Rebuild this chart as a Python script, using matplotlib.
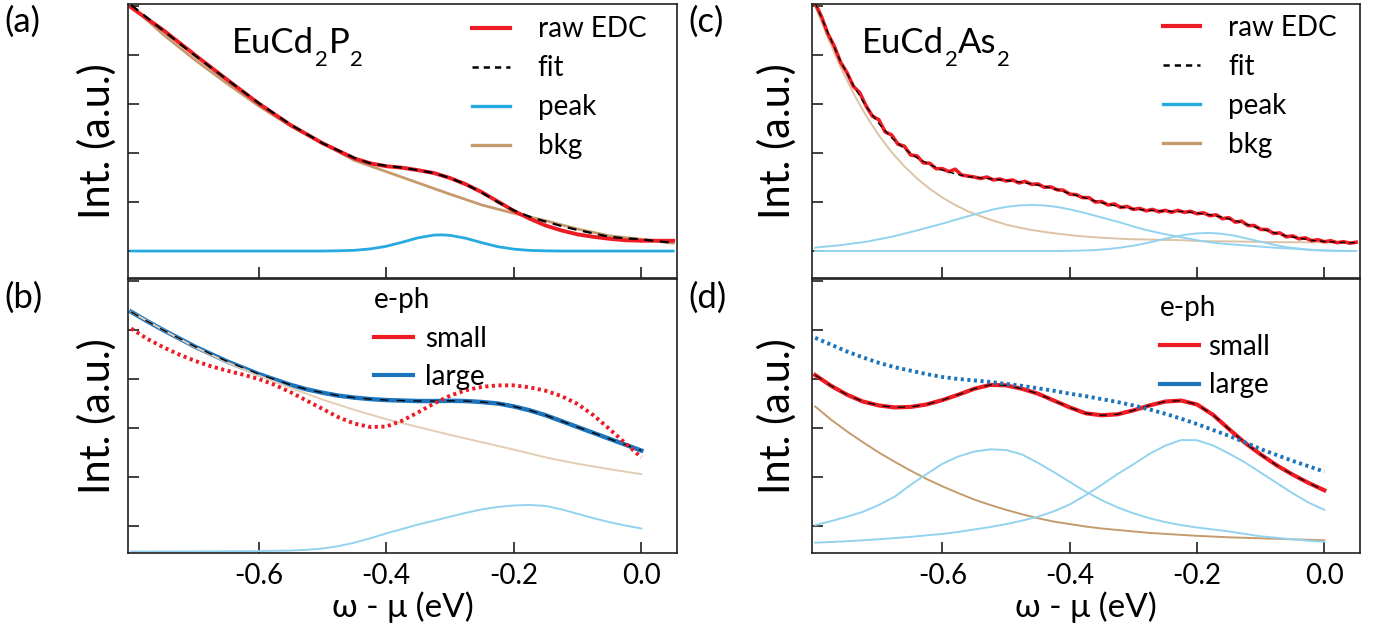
import matplotlib.pyplot as plt
from matplotlib.lines import Line2D

plt.rcParams['font.family'] = ['Lato', 'DejaVu Sans']

# ---- panel (a): EuCd2P2 EDC fit ----
a_x = [-0.80, -0.75, -0.70, -0.65, -0.60, -0.55, -0.50, -0.45, -0.425, -0.40,
       -0.375, -0.35, -0.325, -0.30, -0.275, -0.25, -0.225, -0.20, -0.175, -0.15,
       -0.125, -0.10, -0.075, -0.05, -0.025, 0.0, 0.025, 0.05]
a_raw = [4.97, 4.51, 4.00, 3.50, 3.01, 2.57, 2.20, 1.89, 1.79, 1.73,
         1.70, 1.65, 1.59, 1.49, 1.36, 1.20, 1.01, 0.82, 0.66, 0.52,
         0.42, 0.34, 0.29, 0.25, 0.22, 0.21, 0.21, 0.21]
a_fit = [5.02, 4.50, 3.99, 3.50, 3.02, 2.58, 2.20, 1.90, 1.79, 1.74,
         1.70, 1.65, 1.59, 1.49, 1.36, 1.19, 1.00, 0.83, 0.70, 0.60,
         0.51, 0.43, 0.36, 0.29, 0.26, 0.24, 0.20, 0.17]
a_bkg_x = [-0.80, -0.75, -0.70, -0.65, -0.60, -0.55, -0.50, -0.45, -0.40,
           -0.35, -0.30, -0.25, -0.20, -0.15, -0.10, -0.05, 0.0, 0.05]
a_bkg = [5.00, 4.42, 3.90, 3.42, 2.96, 2.55, 2.20, 1.85, 1.62,
         1.39, 1.16, 0.94, 0.77, 0.62, 0.45, 0.31, 0.24, 0.16]
a_peak_x = [-0.80, -0.50, -0.475, -0.45, -0.425, -0.40, -0.375, -0.35, -0.325,
            -0.3125, -0.30, -0.275, -0.25, -0.225, -0.20, -0.175, -0.15, -0.125, 0.05]
a_peak = [0.0, 0.0, 0.005, 0.015, 0.043, 0.097, 0.18, 0.27, 0.326,
          0.33, 0.32, 0.26, 0.17, 0.089, 0.039, 0.013, 0.004, 0.0, 0.0]

# ---- panel (b): EuCd2P2 simulation ----
b_x = [-0.80, -0.775, -0.75, -0.725, -0.70, -0.675, -0.65, -0.625, -0.60, -0.575,
       -0.55, -0.525, -0.50, -0.475, -0.45, -0.425, -0.40, -0.375, -0.35, -0.325,
       -0.30, -0.275, -0.25, -0.225, -0.20, -0.175, -0.15, -0.125, -0.10, -0.075,
       -0.05, -0.025, 0.0]
b_large = [4.37, 4.18, 4.00, 3.83, 3.66, 3.51, 3.36, 3.23, 3.10, 2.99,
           2.88, 2.79, 2.72, 2.66, 2.62, 2.59, 2.57, 2.56, 2.55, 2.55,
           2.555, 2.55, 2.53, 2.50, 2.44, 2.36, 2.26, 2.14, 2.02, 1.90,
           1.78, 1.66, 1.54]
b_small = [4.03, 3.82, 3.65, 3.50, 3.37, 3.26, 3.17, 3.09, 3.00, 2.88,
           2.73, 2.56, 2.39, 2.22, 2.09, 2.02, 2.03, 2.15, 2.32, 2.50,
           2.66, 2.77, 2.84, 2.87, 2.87, 2.83, 2.76, 2.65, 2.49, 2.26,
           1.98, 1.69, 1.40]
b_bkg_x = [-0.80, -0.75, -0.70, -0.65, -0.60, -0.55, -0.50, -0.45, -0.40,
           -0.35, -0.30, -0.25, -0.20, -0.15, -0.10, -0.05, 0.0]
b_bkg = [4.37, 4.00, 3.65, 3.34, 3.07, 2.82, 2.58, 2.37, 2.18,
         2.02, 1.86, 1.71, 1.56, 1.40, 1.27, 1.16, 1.06]
b_peak = [-0.52, -0.52, -0.519, -0.518, -0.517, -0.516, -0.515, -0.513, -0.51,
          -0.505, -0.50, -0.485, -0.46, -0.41, -0.34, -0.25, -0.15, -0.06,
          0.03, 0.11, 0.19, 0.27, 0.34, 0.39, 0.42, 0.43, 0.41, 0.34,
          0.25, 0.16, 0.08, 0.01, -0.05]

# ---- panel (c): EuCd2As2 EDC fit ----
c_raw_x = [round(-0.80 + 0.01 * i, 2) for i in range(86)]
c_raw = [5.05, 4.78, 4.43, 4.18, 3.85, 3.64, 3.36, 3.23, 2.96, 2.75,
         2.68, 2.43, 2.37, 2.18, 2.14, 1.96, 1.94, 1.80, 1.79, 1.68,
         1.68, 1.62, 1.67, 1.55, 1.53, 1.51, 1.48, 1.51, 1.45, 1.47,
         1.43, 1.45, 1.39, 1.42, 1.36, 1.37, 1.30, 1.31, 1.25, 1.24,
         1.16, 1.15, 1.09, 1.09, 1.00, 1.01, 0.94, 0.96, 0.89, 0.91,
         0.85, 0.87, 0.82, 0.85, 0.80, 0.83, 0.79, 0.83, 0.79, 0.81,
         0.76, 0.78, 0.72, 0.74, 0.66, 0.68, 0.59, 0.61, 0.52, 0.52,
         0.44, 0.44, 0.36, 0.37, 0.29, 0.31, 0.25, 0.27, 0.21, 0.23,
         0.19, 0.21, 0.17, 0.19, 0.16, 0.18]
c_x = [-0.80, -0.78, -0.76, -0.74, -0.72, -0.70, -0.68, -0.66, -0.64, -0.62,
       -0.60, -0.58, -0.56, -0.54, -0.52, -0.50, -0.48, -0.46, -0.44, -0.42,
       -0.40, -0.38, -0.36, -0.34, -0.32, -0.30, -0.28, -0.26, -0.24, -0.22,
       -0.20, -0.18, -0.16, -0.14, -0.12, -0.10, -0.08, -0.06, -0.04, -0.02,
       0.0, 0.02, 0.04, 0.05]
c_fit = [5.07, 4.45, 3.87, 3.38, 2.95, 2.60, 2.31, 2.09, 1.90, 1.76,
         1.65, 1.575, 1.52, 1.49, 1.47, 1.44, 1.41, 1.37, 1.32, 1.255,
         1.175, 1.10, 1.02, 0.955, 0.90, 0.86, 0.835, 0.82, 0.81, 0.805,
         0.775, 0.74, 0.69, 0.62, 0.535, 0.455, 0.38, 0.31, 0.265, 0.22,
         0.195, 0.18, 0.17, 0.17]
c_peak1 = [0.07, 0.095, 0.12, 0.155, 0.19, 0.24, 0.29, 0.355, 0.42, 0.49,
           0.56, 0.635, 0.71, 0.78, 0.85, 0.90, 0.93, 0.94, 0.93, 0.90,
           0.85, 0.79, 0.72, 0.65, 0.58, 0.50, 0.43, 0.37, 0.32, 0.27,
           0.22, 0.18, 0.15, 0.13, 0.11, 0.09, 0.07, 0.055, 0.04, 0.025,
           0.015, 0.008, 0.003, 0.0]
c_peak2 = [0.0, 0.0, 0.0, 0.0, 0.0, 0.0, 0.0, 0.0, 0.0, 0.0,
           0.0, 0.0, 0.0, 0.0, 0.0, 0.0, 0.0, 0.0, 0.0, 0.0,
           0.005, 0.01, 0.02, 0.04, 0.07, 0.11, 0.16, 0.22, 0.28, 0.33,
           0.36, 0.37, 0.35, 0.31, 0.25, 0.19, 0.13, 0.08, 0.05, 0.02,
           0.01, 0.0, 0.0, 0.0]
c_bkg = [5.00, 4.35, 3.75, 3.22, 2.76, 2.36, 2.02, 1.73, 1.48, 1.27,
         1.09, 0.94, 0.81, 0.71, 0.62, 0.54, 0.48, 0.43, 0.39, 0.355,
         0.325, 0.30, 0.28, 0.265, 0.25, 0.24, 0.235, 0.23, 0.225, 0.22,
         0.205, 0.20, 0.198, 0.195, 0.19, 0.185, 0.183, 0.18, 0.18, 0.178,
         0.175, 0.173, 0.171, 0.17]

# ---- panel (d): EuCd2As2 simulation ----
d_x = [-0.80, -0.775, -0.75, -0.725, -0.70, -0.675, -0.65, -0.625, -0.60, -0.575,
       -0.55, -0.525, -0.50, -0.475, -0.45, -0.425, -0.40, -0.375, -0.35, -0.325,
       -0.30, -0.275, -0.25, -0.225, -0.20, -0.175, -0.15, -0.125, -0.10, -0.075,
       -0.05, -0.025, 0.0]
d_small = [3.08, 2.86, 2.68, 2.54, 2.46, 2.42, 2.43, 2.48, 2.57, 2.68,
           2.80, 2.88, 2.87, 2.80, 2.70, 2.56, 2.42, 2.30, 2.26, 2.28,
           2.36, 2.46, 2.54, 2.56, 2.48, 2.27, 1.98, 1.70, 1.46, 1.24,
           1.05, 0.88, 0.73]
d_large = [3.84, 3.70, 3.56, 3.44, 3.33, 3.24, 3.17, 3.10, 3.04, 3.00,
           2.97, 2.94, 2.90, 2.86, 2.81, 2.76, 2.70, 2.65, 2.59, 2.53,
           2.46, 2.38, 2.29, 2.19, 2.08, 1.96, 1.84, 1.71, 1.57, 1.45,
           1.33, 1.22, 1.11]
d_peak1 = [0.02, 0.10, 0.19, 0.29, 0.43, 0.60, 0.84, 1.06, 1.27, 1.42,
           1.52, 1.565, 1.55, 1.46, 1.29, 1.10, 0.90, 0.70, 0.53, 0.38,
           0.26, 0.16, 0.08, 0.02, -0.03, -0.07, -0.11, -0.16, -0.21, -0.24,
           -0.27, -0.30, -0.32]
d_peak2 = [-0.34, -0.325, -0.31, -0.29, -0.27, -0.245, -0.22, -0.19, -0.16, -0.12,
           -0.07, -0.02, 0.04, 0.11, 0.19, 0.30, 0.44, 0.63, 0.84, 1.06,
           1.26, 1.47, 1.64, 1.755, 1.75, 1.645, 1.48, 1.30, 1.09, 0.88,
           0.67, 0.48, 0.33]
d_bkg = [2.44, 2.17, 1.93, 1.71, 1.50, 1.31, 1.13, 0.96, 0.81, 0.67,
         0.54, 0.43, 0.33, 0.24, 0.16, 0.09, 0.04, -0.01, -0.05, -0.08,
         -0.11, -0.14, -0.16, -0.18, -0.20, -0.215, -0.23, -0.24, -0.25, -0.26,
         -0.27, -0.28, -0.29]

RED = '#ED1C24'
BLUE = '#1C75BC'
PEAK = '#27AAE1'
LBLUE = '#93D3F0'
TAN = '#C59B6D'
SPINE = '#231F20'

fig = plt.figure(figsize=(13.83, 6.37), dpi=100)
W, H = 1383, 637


def make_ax(left_px, top_px, right_px, bottom_px):
    ax = fig.add_axes([left_px / W, 1 - bottom_px / H,
                       (right_px - left_px) / W, (bottom_px - top_px) / H])
    ax.set_xlim(-0.805, 0.056)
    ax.set_ylim(-0.55, 5.04)
    ax.set_xticks([-0.6, -0.4, -0.2, 0.0])
    ax.set_yticks([0, 1, 2, 3, 4, 5])
    ax.set_yticklabels([])
    ax.tick_params(direction='in', length=8, width=1.2, color=SPINE,
                   labelsize=20, pad=7)
    for s in ax.spines.values():
        s.set_linewidth(1.2)
        s.set_color(SPINE)
    return ax


def formula(ax, x, y, parts):
    # chemical formula with low, small subscripts
    prev = ax.text(x, y, parts[0], transform=ax.transAxes, fontsize=25,
                   va='baseline')
    for i, p in enumerate(parts[1:]):
        sub = i % 2 == 0
        prev = ax.annotate(p, xy=(1, 0), xycoords=prev,
                           xytext=(0.5, -7.5 if sub else 7.5),
                           textcoords='offset points',
                           fontsize=16 if sub else 25, va='bottom')


ax_a = make_ax(128, 4, 677, 278)
ax_b = make_ax(128, 279, 677, 553)
ax_c = make_ax(812, 4, 1360, 278)
ax_d = make_ax(812, 279, 1360, 553)

for ax in (ax_a, ax_c):
    ax.set_xticklabels([])
for ax in (ax_b, ax_d):
    ax.set_xticklabels(['-0.6', '-0.4', '-0.2', '0.0'])
    ax.set_xlabel('ω - μ (eV)', fontsize=24, labelpad=2)
for ax in (ax_a, ax_b):
    ax.set_ylabel('Int. (a.u.)', fontsize=30, labelpad=1)
for ax in (ax_c, ax_d):
    ax.set_ylabel('Int. (a.u.)', fontsize=30, labelpad=4)

leg_kw = dict(loc='upper left', frameon=False, fontsize=20, borderpad=0,
              borderaxespad=0)

# (a)
ax_a.plot(a_bkg_x, a_bkg, color=TAN, lw=2.0)
ax_a.plot(a_peak_x, a_peak, color=PEAK, lw=2.0)
ax_a.plot(a_x, a_raw, color=RED, lw=2.8)
ax_a.plot(a_x, a_fit, color='black', lw=1.6, ls=(0, (4, 3)))
formula(ax_a, 0.19, 0.82, ['EuCd', '2', 'P', '2'])
h_a = [Line2D([], [], color=RED, lw=3),
       Line2D([], [], color='black', lw=1.8, ls=(0, (2.5, 2))),
       Line2D([], [], color=PEAK, lw=2.4),
       Line2D([], [], color=TAN, lw=2.4)]
ax_a.legend(h_a, ['raw EDC', 'fit', 'peak', 'bkg'],
            bbox_to_anchor=(0.627, 0.955), handlelength=1.35,
            handletextpad=1.0, labelspacing=0.47, **leg_kw)

# (b)
ax_b.plot(b_x, b_peak, color=LBLUE, lw=1.4)
ax_b.plot(b_x, b_large, color=BLUE, lw=3.2)
ax_b.plot(b_bkg_x, b_bkg, color='#E3CDB5', lw=1.4)
ax_b.plot(b_x, b_large, color='black', lw=1.0, ls=(0, (6, 6)))
ax_b.plot(b_x, b_small, color=RED, lw=2.8, ls=(0, (0.8, 0.9)))
h_b = [Line2D([], [], color=RED, lw=3), Line2D([], [], color=BLUE, lw=3)]
ax_b.legend(h_b, ['small', 'large'], title='e-ph',
            bbox_to_anchor=(0.448, 0.97), title_fontsize=20, alignment='left',
            handlelength=1.4, handletextpad=0.45, labelspacing=0.45, **leg_kw)

# (c)
ax_c.plot(c_x, c_bkg, color='#DCC3A6', lw=1.4)
ax_c.plot(c_x, c_peak1, color=LBLUE, lw=1.4)
ax_c.plot(c_x, c_peak2, color=LBLUE, lw=1.4)
ax_c.plot(c_raw_x, c_raw, color=RED, lw=2.6)
ax_c.plot(c_x, c_fit, color='black', lw=1.0, ls=(0, (4, 3)))
formula(ax_c, 0.091, 0.82, ['EuCd', '2', 'As', '2'])
ax_c.legend(h_a, ['raw EDC', 'fit', 'peak', 'bkg'],
            bbox_to_anchor=(0.64, 0.96), handlelength=1.35,
            handletextpad=1.0, labelspacing=0.47, **leg_kw)

# (d)
ax_d.plot(d_x, d_bkg, color=TAN, lw=1.4)
ax_d.plot(d_x, d_peak1, color=LBLUE, lw=1.4)
ax_d.plot(d_x, d_peak2, color=LBLUE, lw=1.4)
ax_d.plot(d_x, d_small, color=RED, lw=3.0)
ax_d.plot(d_x, d_small, color='black', lw=0.9, ls=(0, (6, 6)))
ax_d.plot(d_x, d_large, color=BLUE, lw=2.8, ls=(0, (0.8, 0.9)))
ax_d.legend(h_b, ['small', 'large'], title='e-ph',
            bbox_to_anchor=(0.635, 0.94), title_fontsize=20, alignment='left',
            handlelength=1.4, handletextpad=0.35, labelspacing=0.45, **leg_kw)

for lab, xp, yp in [('(a)', 4, 6), ('(b)', 4, 282), ('(c)', 688, 6), ('(d)', 688, 282)]:
    fig.text(xp / W, 1 - yp / H, lab, fontsize=25, va='top', ha='left')

fig.savefig('out.png', dpi=100)
